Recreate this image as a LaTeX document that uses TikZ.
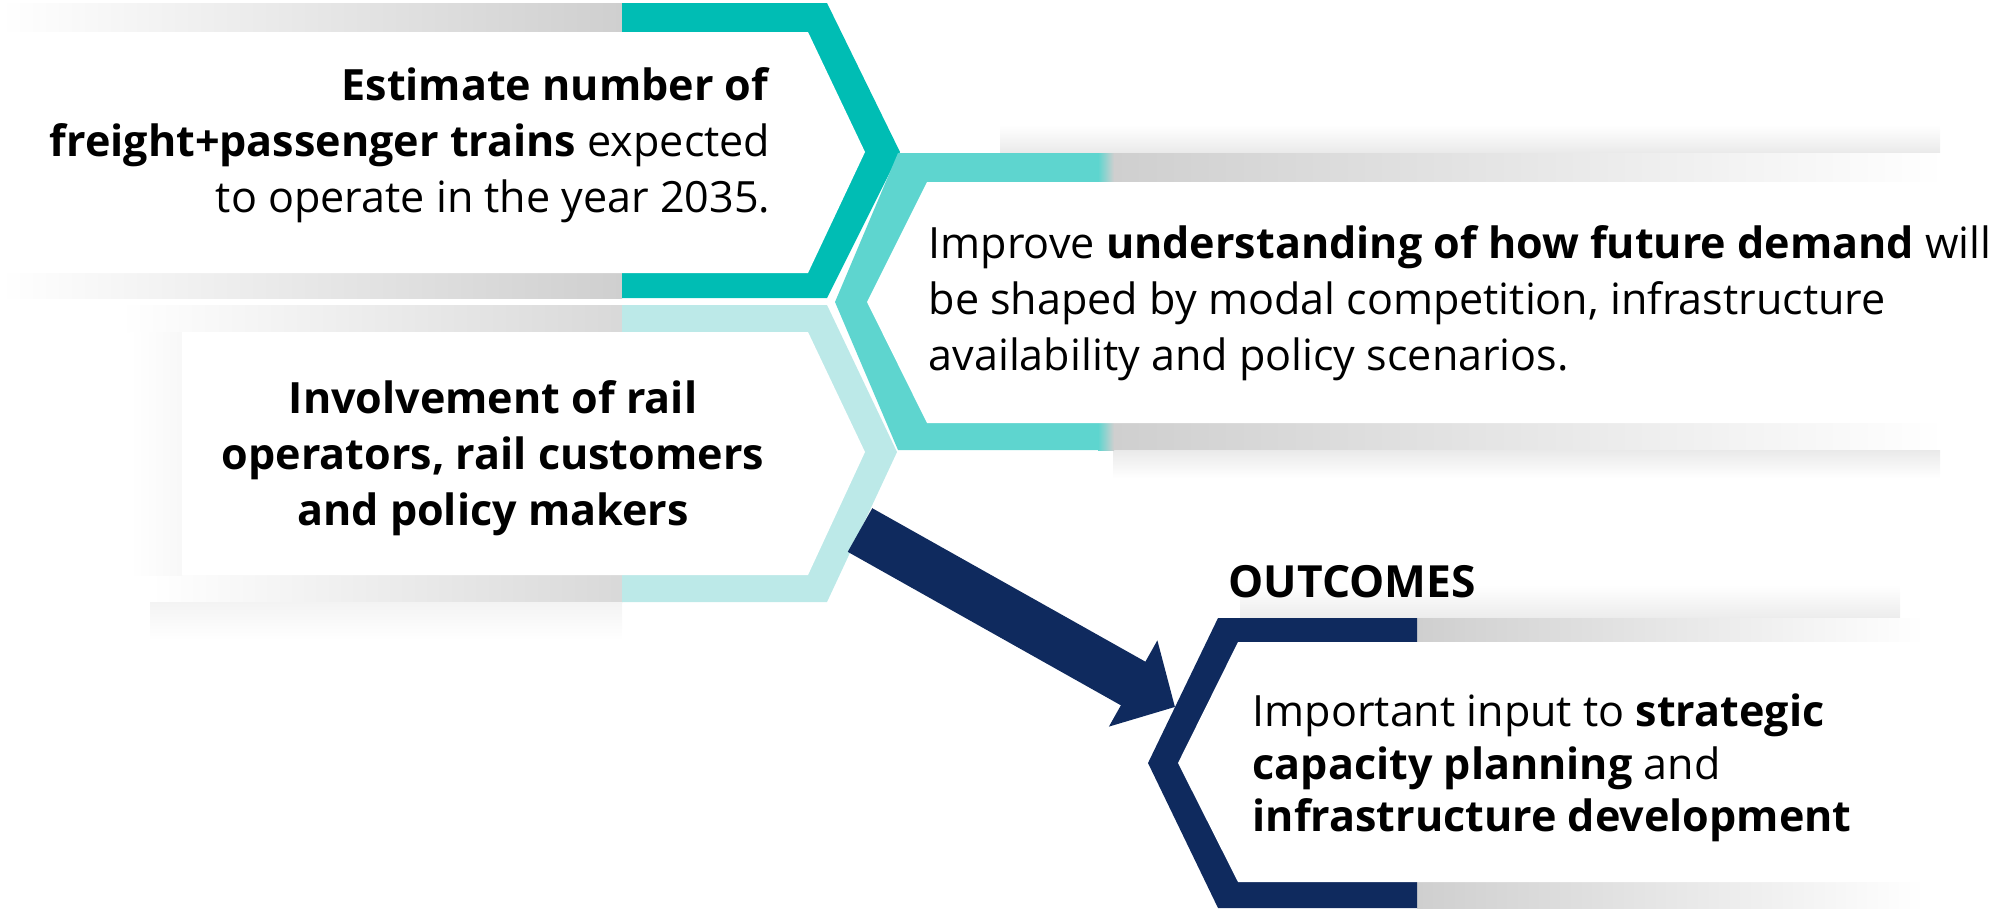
\documentclass[tikz,border=0pt]{standalone}
\usepackage{fontspec}
\setmainfont{Open Sans}
\usetikzlibrary{arrows.meta}

\definecolor{tealA}{HTML}{00BDB4}
\definecolor{tealB}{HTML}{5ED5CF}
\definecolor{tealC}{HTML}{BCE9E8}
\definecolor{navy}{HTML}{0F2A5E}
\definecolor{shadow}{HTML}{CFCFCF}

\tikzset{
  bodytext/.style={font=\fontsize{12.25}{16}\selectfont, inner sep=0pt, text=black},
  headtext/.style={font=\bfseries\fontsize{12.6}{14}\selectfont, inner sep=0pt, text=black},
}

\begin{document}
\begin{tikzpicture}[x=0.01cm,y=-0.01cm]
  \useasboundingbox (0,0) rectangle (1991,908);

  % Shadows of the left boxes
  \shade[left color=white, right color=shadow] (0,3) rectangle (622,32);
  \shade[left color=white, right color=shadow] (0,273) rectangle (622,298);
  \shade[left color=white, right color=shadow!80] (120,305) rectangle (622,332);
  \shade[left color=white, right color=shadow!80] (150,575) rectangle (622,602);
  \shade[top color=shadow!25, bottom color=white] (150,602) rectangle (622,640);
  \shade[left color=white, right color=shadow!15] (130,332) rectangle (182,575);

  % Box A: trains in 2035
  \fill[tealA] (622,3) -- (827,3) -- (900,152) -- (827,298) -- (622,298) -- cycle;
  \fill[white] (0,32) -- (808,32) -- (865,152) -- (808,273) -- (0,273) -- cycle;

  % Box C: involvement
  \fill[tealC] (622,305) -- (827,305) -- (897,452) -- (827,602) -- (622,602) -- cycle;
  \fill[white] (182,332) -- (808,332) -- (865,452) -- (808,575) -- (182,575) -- cycle;

  % Box B: understanding of demand
  \shade[top color=white, bottom color=shadow!45] (1000,125) rectangle (1940,153);
  \shade[left color=shadow, right color=white] (1113,153) rectangle (1945,182);
  \shade[left color=shadow, right color=white] (1113,423) rectangle (1945,450);
  \shade[top color=shadow!45, bottom color=white] (1113,450) rectangle (1940,478);
  \fill[tealB] (898,153) -- (1100,153) -- (1100,450) -- (898,450) -- (835,302) -- cycle;
  \shade[left color=tealB, right color=shadow] (1098,153) rectangle (1114,182);
  \shade[left color=tealB, right color=shadow] (1098,423) rectangle (1114,450);
  \fill[white] (927,182) -- (1940,182) -- (1940,423) -- (927,423) -- (867,302) -- cycle;

  % Box D: outcomes
  \shade[top color=white, bottom color=shadow!40] (1240,585) rectangle (1900,618);
  \shade[left color=shadow, right color=white] (1417,618) rectangle (1925,642);
  \shade[left color=shadow, right color=white] (1417,882) rectangle (1925,908);
  \fill[navy] (1218,618) -- (1417,618) -- (1417,908) -- (1218,908) -- (1148,763) -- cycle;
  \fill[white] (1238,642) -- (1920,642) -- (1920,882) -- (1238,882) -- (1178,763) -- cycle;

  % Texts
  \node[bodytext, align=right, anchor=east] (textA) at (771,145)
    {\textbf{Estimate number of}\\
     \textbf{freight+passenger trains} expected\\
     to operate in the year 2035.};
  \node[bodytext, align=left, anchor=west] (textB) at (928,303)
    {Improve \textbf{understanding of how future demand} will\\
     be shaped by modal competition, infrastructure\\
     availability and policy scenarios.};
  \node[bodytext, font=\bfseries\fontsize{12.25}{16}\selectfont, align=center] (textC) at (493,458)
    {Involvement of rail\\
     operators, rail customers\\
     and policy makers};
  \node[bodytext, font=\fontsize{12.25}{15}\selectfont, align=left, anchor=west] (textD) at (1252,768)
    {Important input to \textbf{strategic}\\
     \textbf{capacity planning} and\\
     \textbf{infrastructure development}};
  \node[headtext, anchor=base west] (outcomes) at (1228,597) {OUTCOMES};

  % Arrow from the boxes to the outcomes
  \coordinate (arrowStart) at (860,530);
  \coordinate (arrowEnd) at (1175,707);
  \draw[navy, line width=0.5cm, -{Triangle[width=0.96cm,length=0.48cm]}] (arrowStart) -- (arrowEnd);
\end{tikzpicture}
\end{document}
